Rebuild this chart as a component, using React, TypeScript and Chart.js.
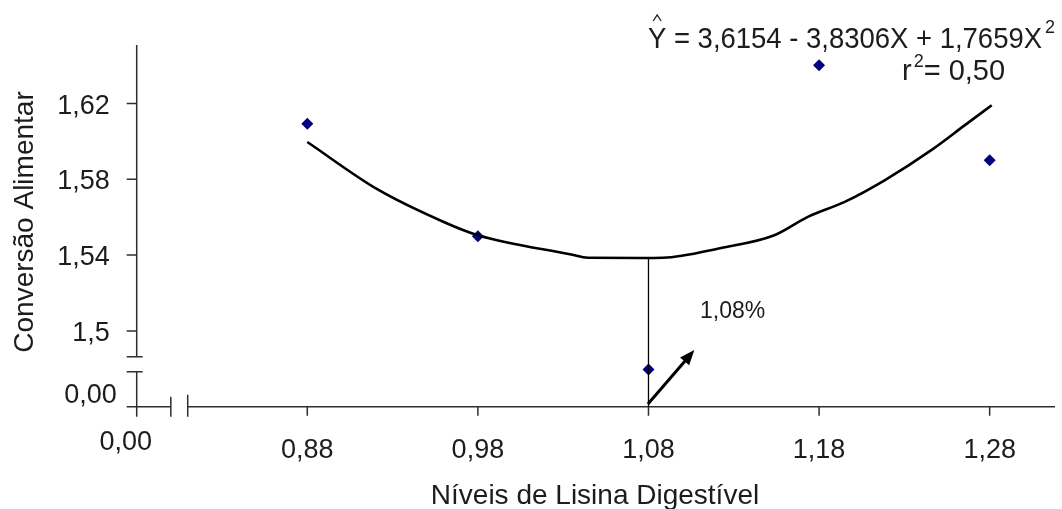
import { useEffect, useRef } from "react";
import { Chart, registerables } from "chart.js";

Chart.register(...registerables);

// Observed points
const lysineLevels = [0.88, 0.98, 1.08, 1.18, 1.28];
const feedConversion = [1.6094, 1.55, 1.4796, 1.6402, 1.5901];

// Regression curve as drawn
const curveX = [0.88, 0.921, 0.96, 0.98, 1.0347, 1.0445, 1.0757, 1.0885, 1.1226, 1.1538, 1.1734, 1.195, 1.2184, 1.2458, 1.2655, 1.2812];
const curveY = [1.5997, 1.5748, 1.5575, 1.5505, 1.5403, 1.5386, 1.5385, 1.5386, 1.5438, 1.5505, 1.5602, 1.5681, 1.5795, 1.5954, 1.6086, 1.6191];

// Optimum marker (vertical drop line) and arrow
const optimumX = [1.08, 1.08];
const optimumY = [1.46, 1.5385];
const arrowX = [1.0797, 1.1069];
const arrowY = [1.4614, 1.4899];

// Axis ticks and labels
const xTicks = [0.88, 0.98, 1.08, 1.18, 1.28];
const xTickLabels = ["0,88", "0,98", "1,08", "1,18", "1,28"];
const yTicks = [1.5, 1.54, 1.58, 1.62];
const yTickLabels = ["1,5", "1,54", "1,58", "1,62"];
const xOrigin = 0.78;
const yOrigin = 1.46;
const originLabel = "0,00";
const xBreak = [0.8, 0.8099];
const yBreak = [1.4785, 1.4864];
const xMax = 1.3183;
const yMax = 1.6509;

const xTitle = "Níveis de Lisina Digestível";
const yTitle = "Conversão Alimentar";
const eqMain = "Y = 3,6154 - 3,8306X + 1,7659X";
const eqR = "= 0,50";
const optimumLabel = "1,08%";

const FONT = '"Liberation Sans", Arial, sans-serif';
const TEXT = "#1c1c1c";
const AXIS = "#2e2e2e";

const axesPlugin = {
  id: "brokenAxes",
  beforeDatasetsDraw(chart: any) {
    const ctx = chart.ctx;
    const xs = chart.scales.x;
    const ys = chart.scales.y;
    const x0 = xs.getPixelForValue(xOrigin);
    const y0 = ys.getPixelForValue(yOrigin);
    const top = ys.getPixelForValue(yMax);
    const right = xs.getPixelForValue(xMax);
    ctx.save();
    ctx.strokeStyle = AXIS;
    ctx.lineWidth = 1.5;
    ctx.lineCap = "butt";
    ctx.beginPath();
    const yb1 = ys.getPixelForValue(yBreak[1]);
    const yb0 = ys.getPixelForValue(yBreak[0]);
    ctx.moveTo(x0, top);
    ctx.lineTo(x0, yb1);
    ctx.moveTo(x0 - 10, yb1);
    ctx.lineTo(x0 + 6, yb1);
    ctx.moveTo(x0 - 10, yb0);
    ctx.lineTo(x0 + 6, yb0);
    ctx.moveTo(x0, yb0);
    ctx.lineTo(x0, y0 + 10);
    const xb0 = xs.getPixelForValue(xBreak[0]);
    const xb1 = xs.getPixelForValue(xBreak[1]);
    ctx.moveTo(x0 - 10, y0);
    ctx.lineTo(xb0, y0);
    ctx.moveTo(xb0, y0 - 10);
    ctx.lineTo(xb0, y0 + 10);
    ctx.moveTo(xb1, y0 - 12);
    ctx.lineTo(xb1, y0 + 10);
    ctx.moveTo(xb1, y0);
    ctx.lineTo(right, y0);
    xTicks.forEach((v) => {
      const p = xs.getPixelForValue(v);
      ctx.moveTo(p, y0);
      ctx.lineTo(p, y0 + 9);
    });
    yTicks.forEach((v) => {
      const p = ys.getPixelForValue(v);
      ctx.moveTo(x0 - 10, p);
      ctx.lineTo(x0, p);
    });
    ctx.stroke();
    ctx.restore();
  },
  afterDraw(chart: any) {
    const ctx = chart.ctx;
    const xs = chart.scales.x;
    const ys = chart.scales.y;
    const x0 = xs.getPixelForValue(xOrigin);
    const y0 = ys.getPixelForValue(yOrigin);
    ctx.save();
    ctx.fillStyle = TEXT;
    ctx.font = `27px ${FONT}`;
    ctx.textBaseline = "alphabetic";
    ctx.textAlign = "center";
    xTicks.forEach((v, i) => {
      ctx.fillText(xTickLabels[i], xs.getPixelForValue(v), y0 + 51.5);
    });
    ctx.fillText(originLabel, x0 - 11, y0 + 43);
    ctx.textAlign = "right";
    yTicks.forEach((v, i) => {
      ctx.fillText(yTickLabels[i], x0 - 27, ys.getPixelForValue(v) + 10);
    });
    ctx.fillText(originLabel, x0 - 20, y0 - 4);
    ctx.font = `28px ${FONT}`;
    ctx.textAlign = "center";
    ctx.fillText(xTitle, 595, y0 + 97);
    ctx.save();
    ctx.translate(33, 222);
    ctx.rotate(-Math.PI / 2);
    ctx.fillText(yTitle, 0, 0);
    ctx.restore();

    // arrow
    const ax0 = xs.getPixelForValue(arrowX[0]);
    const ay0 = ys.getPixelForValue(arrowY[0]);
    const ax1 = xs.getPixelForValue(arrowX[1]);
    const ay1 = ys.getPixelForValue(arrowY[1]);
    const ang = Math.atan2(ay1 - ay0, ax1 - ax0);
    const hl = 15;
    const hw = 6;
    const bx = ax1 - hl * Math.cos(ang);
    const by = ay1 - hl * Math.sin(ang);
    ctx.strokeStyle = "#000";
    ctx.lineWidth = 3;
    ctx.beginPath();
    ctx.moveTo(ax0, ay0);
    ctx.lineTo(bx + 2 * Math.cos(ang), by + 2 * Math.sin(ang));
    ctx.stroke();
    ctx.fillStyle = "#000";
    ctx.beginPath();
    ctx.moveTo(ax1, ay1);
    ctx.lineTo(bx - hw * Math.sin(ang), by + hw * Math.cos(ang));
    ctx.lineTo(bx + hw * Math.sin(ang), by - hw * Math.cos(ang));
    ctx.closePath();
    ctx.fill();

    ctx.fillStyle = TEXT;
    ctx.textAlign = "left";
    ctx.font = `23px ${FONT}`;
    ctx.fillText(optimumLabel, 700, 318);

    // equation, fitted to its width in the reference
    const ex = 648;
    const eb = 48;
    const targetW = 394;
    ctx.font = `30px ${FONT}`;
    const w = ctx.measureText(eqMain).width;
    const yw = ctx.measureText("Y").width;
    const sx = targetW / w;
    ctx.save();
    ctx.translate(ex, eb);
    ctx.scale(sx, 1);
    ctx.fillText(eqMain, 0, 0);
    ctx.restore();
    ctx.font = `18px ${FONT}`;
    ctx.fillText("2", ex + targetW + 3, 33);
    ctx.strokeStyle = TEXT;
    ctx.lineWidth = 1.3;
    ctx.beginPath();
    const hc = ex + (yw * sx) / 2;
    ctx.moveTo(hc - 4, 21);
    ctx.lineTo(hc, 15);
    ctx.lineTo(hc + 4, 21);
    ctx.stroke();

    // r² line
    ctx.font = `29px ${FONT}`;
    const rx = 902;
    const rb = 80;
    ctx.fillText("r", rx, rb);
    const rw = ctx.measureText("r").width;
    ctx.font = `18px ${FONT}`;
    ctx.fillText("2", rx + rw + 2, rb - 13);
    ctx.font = `29px ${FONT}`;
    ctx.fillText(eqR, rx + rw + 12, rb);
    ctx.restore();
  },
};

export default function App() {
  const ref = useRef<HTMLCanvasElement>(null);
  useEffect(() => {
    if (!ref.current) return;
    const chart = new Chart(ref.current, {
      type: "scatter",
      data: {
        datasets: [
          {
            label: "curve",
            data: curveX.map((x, i) => ({ x, y: curveY[i] })),
            showLine: true,
            borderColor: "#000",
            borderWidth: 2.6,
            pointRadius: 0,
            cubicInterpolationMode: "monotone",
            fill: false,
          },
          {
            label: "optimum",
            data: optimumX.map((x, i) => ({ x, y: optimumY[i] })),
            showLine: true,
            borderColor: "#000",
            borderWidth: 1.3,
            pointRadius: 0,
          },
          {
            label: "observed",
            data: lysineLevels.map((x, i) => ({ x, y: feedConversion[i] })),
            pointStyle: "rectRot",
            pointRadius: 6,
            backgroundColor: "#000080",
            borderColor: "#000080",
            borderWidth: 0,
            showLine: false,
          },
        ],
      },
      options: {
        animation: false,
        responsive: false,
        maintainAspectRatio: false,
        events: [],
        layout: { padding: { left: 136.7, right: 7, top: 45, bottom: 102.3 } },
        plugins: { legend: { display: false }, tooltip: { enabled: false } },
        scales: {
          x: { type: "linear", display: false, min: xOrigin, max: xMax },
          y: { type: "linear", display: false, min: yOrigin, max: yMax },
        },
        elements: { line: { tension: 0.4 } },
      },
      plugins: [axesPlugin],
    } as any);
    return () => chart.destroy();
  }, []);
  return (
    <div style={{ position: "absolute", left: 0, top: 0, width: 1062, height: 509, background: "#fff" }}>
      <canvas ref={ref} width={1062} height={509} style={{ display: "block" }} />
    </div>
  );
}
